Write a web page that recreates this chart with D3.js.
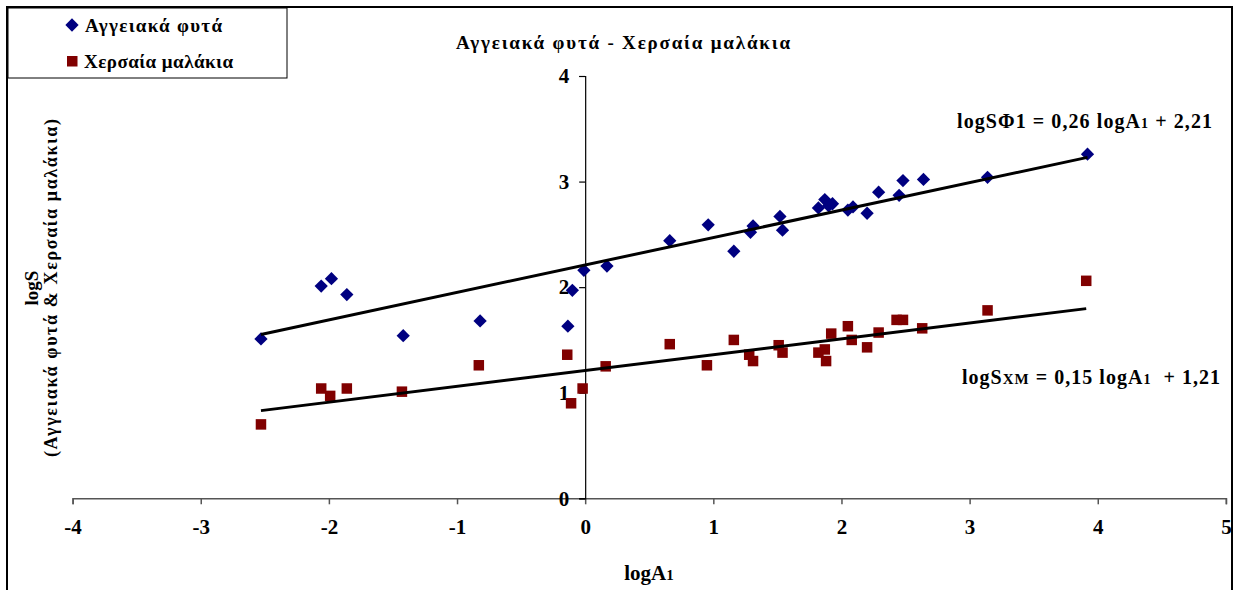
<!DOCTYPE html>
<html>
<head>
<meta charset="utf-8">
<script src="https://cdn.jsdelivr.net/npm/d3@7"></script>
<style>
  html, body { margin: 0; padding: 0; background: #fff; }
  svg { display: block; }
  text { font-family: "Liberation Serif", "Times New Roman", serif; font-weight: bold; fill: #000; }
</style>
</head>
<body>
<svg id="chart" width="1237" height="590"></svg>
<script>
// Vascular plants (Αγγειακά φυτά): logA1 vs logS
const plantsX = [-2.53, -2.06, -1.98, -1.86, -1.42, -0.82, -0.135, -0.10, -0.01, 0.17,
                 0.66, 0.96, 1.16, 1.29, 1.31, 1.52, 1.54, 1.82, 1.87, 1.90,
                 1.93, 2.05, 2.09, 2.20, 2.29, 2.45, 2.48, 2.64, 3.14, 3.92];
const plantsY = [1.51, 2.01, 2.08, 1.93, 1.54, 1.68, 1.63, 1.97, 2.16, 2.20,
                 2.44, 2.59, 2.34, 2.52, 2.58, 2.67, 2.54, 2.75, 2.83, 2.77,
                 2.79, 2.73, 2.76, 2.70, 2.90, 2.87, 3.01, 3.02, 3.04, 3.26];

// Land snails (Χερσαία μαλάκια): logA1 vs logS
const snailsX = [-2.53, -2.06, -1.99, -1.86, -1.43, -0.83, -0.14, -0.11, -0.02, 0.16,
                 0.66, 0.95, 1.16, 1.28, 1.31, 1.51, 1.54, 1.82, 1.87, 1.88,
                 1.92, 2.05, 2.08, 2.20, 2.29, 2.43, 2.48, 2.63, 3.14, 3.91];
const snailsY = [0.70, 1.04, 0.97, 1.04, 1.01, 1.26, 1.36, 0.90, 1.04, 1.25,
                 1.46, 1.26, 1.50, 1.36, 1.30, 1.45, 1.38, 1.38, 1.41, 1.30,
                 1.56, 1.63, 1.50, 1.43, 1.57, 1.69, 1.69, 1.61, 1.78, 2.06];

// Linear fits: [slope, intercept]
const plantsFit = [0.26, 2.21];
const snailsFit = [0.15, 1.21];

const xTicks = [-4, -3, -2, -1, 0, 1, 2, 3, 4, 5];
const yTicks = [0, 1, 2, 3, 4];

const svg = d3.select("#chart");
const W = 1237, H = 590;

const x = d3.scaleLinear().domain([-4, 5]).range([72.6, 1225.9]);
const y = d3.scaleLinear().domain([0, 4]).range([498.3, 76]);

// chart frame
svg.append("path")
  .attr("d", `M7,${H} V7 H1232 V${H}`)
  .attr("fill", "none").attr("stroke", "#000").attr("stroke-width", 2);

// title
svg.append("text")
  .attr("x", 623).attr("y", 49)
  .attr("text-anchor", "middle")
  .style("font-size", "19px")
  .attr("textLength", 334).attr("lengthAdjust", "spacing")
  .text("Αγγειακά φυτά - Χερσαία μαλάκια");

const tickFmt = d => String(d);

// x axis
const xAxis = d3.axisBottom(x).tickValues(xTicks).tickSize(6).tickPadding(15)
  .tickFormat(tickFmt);
const gx = svg.append("g").attr("transform", `translate(0,${y(0)})`).call(xAxis);
gx.select(".domain").attr("stroke", "#555").attr("stroke-width", 1.5);
gx.selectAll(".tick line").attr("stroke", "#555").attr("stroke-width", 1.5);
gx.selectAll(".tick text")
  .style("font-family", "Liberation Serif, serif").style("font-weight", "bold")
  .style("font-size", "21px").attr("fill", "#000");

// y axis
const yAxis = d3.axisLeft(y).tickValues(yTicks).tickSize(6).tickPadding(10)
  .tickFormat(tickFmt);
const gy = svg.append("g").attr("transform", `translate(${x(0)},0)`).call(yAxis);
gy.select(".domain").attr("stroke", "#000").attr("stroke-width", 1.2);
gy.selectAll(".tick line").attr("stroke", "#000").attr("stroke-width", 1.2);
gy.selectAll(".tick text")
  .style("font-family", "Liberation Serif, serif").style("font-weight", "bold")
  .style("font-size", "21px").attr("fill", "#000");

// axis titles
const xt = svg.append("text")
  .attr("x", 649).attr("y", 580).attr("text-anchor", "middle")
  .style("font-size", "21px");
xt.append("tspan").text("logA");
xt.append("tspan").style("font-size", "15px").text("1");

const yt = svg.append("g").attr("transform", "translate(38,288) rotate(-90)");
yt.append("text").attr("x", 0).attr("y", 0).attr("text-anchor", "middle")
  .style("font-size", "19px").text("logS");
yt.append("text").attr("x", 0).attr("y", 19).attr("text-anchor", "middle")
  .style("font-size", "18px")
  .attr("textLength", 338).attr("lengthAdjust", "spacing")
  .text("(Αγγειακά φυτά & Χερσαία μαλάκια)");

// fitted lines, drawn over the range of each series
function fitLine(xs, fit) {
  const x0 = d3.min(xs), x1 = d3.max(xs);
  return [[x0, fit[0] * x0 + fit[1]], [x1, fit[0] * x1 + fit[1]]];
}
const line = d3.line().x(d => x(d[0])).y(d => y(d[1]));

// markers: diamonds are squares turned by 45 degrees
const diamond = d3.symbol().type(d3.symbolSquare).size(88);
svg.append("g").selectAll("path")
  .data(d3.zip(plantsX, plantsY))
  .join("path")
  .attr("d", diamond)
  .attr("transform", d => `translate(${x(d[0])},${y(d[1])}) rotate(45)`)
  .attr("fill", "#000080");

const sq = 10.5;
svg.append("g").selectAll("rect")
  .data(d3.zip(snailsX, snailsY))
  .join("rect")
  .attr("x", d => x(d[0]) - sq / 2).attr("y", d => y(d[1]) - sq / 2)
  .attr("width", sq).attr("height", sq)
  .attr("fill", "#800000");

svg.append("path").datum(fitLine(plantsX, plantsFit))
  .attr("d", line).attr("fill", "none").attr("stroke", "#000").attr("stroke-width", 3);
svg.append("path").datum(fitLine(snailsX, snailsFit))
  .attr("d", line).attr("fill", "none").attr("stroke", "#000").attr("stroke-width", 3);

// equations
const e1 = svg.append("text").attr("x", 957).attr("y", 128)
  .style("font-size", "20px")
  .attr("textLength", 255).attr("lengthAdjust", "spacing");
e1.append("tspan").text("logSΦ1 = 0,26 logA");
e1.append("tspan").style("font-size", "14px").text("1");
e1.append("tspan").text(" + 2,21");

const e2 = svg.append("text").attr("x", 962).attr("y", 384)
  .style("font-size", "20px").attr("xml:space", "preserve")
  .attr("textLength", 258).attr("lengthAdjust", "spacing");
e2.append("tspan").text("logS");
e2.append("tspan").style("font-size", "15px").text("XM");
e2.append("tspan").text(" = 0,15 logA");
e2.append("tspan").style("font-size", "14px").text("1");
e2.append("tspan").text("  + 1,21");

// legend
const lg = svg.append("g");
lg.append("rect").attr("x", 8).attr("y", 8).attr("width", 279).attr("height", 70)
  .attr("fill", "#fff").attr("stroke", "#000").attr("stroke-width", 1);
lg.append("path").attr("d", diamond)
  .attr("transform", "translate(72,25) rotate(45)").attr("fill", "#000080");
lg.append("rect").attr("x", 67).attr("y", 56).attr("width", 10.5).attr("height", 10.5)
  .attr("fill", "#800000");
lg.append("text").attr("x", 85).attr("y", 32).style("font-size", "19px")
  .attr("textLength", 137).attr("lengthAdjust", "spacing").text("Αγγειακά φυτά");
lg.append("text").attr("x", 84).attr("y", 68).style("font-size", "19px")
  .attr("textLength", 149).attr("lengthAdjust", "spacing").text("Χερσαία μαλάκια");
</script>
</body>
</html>
